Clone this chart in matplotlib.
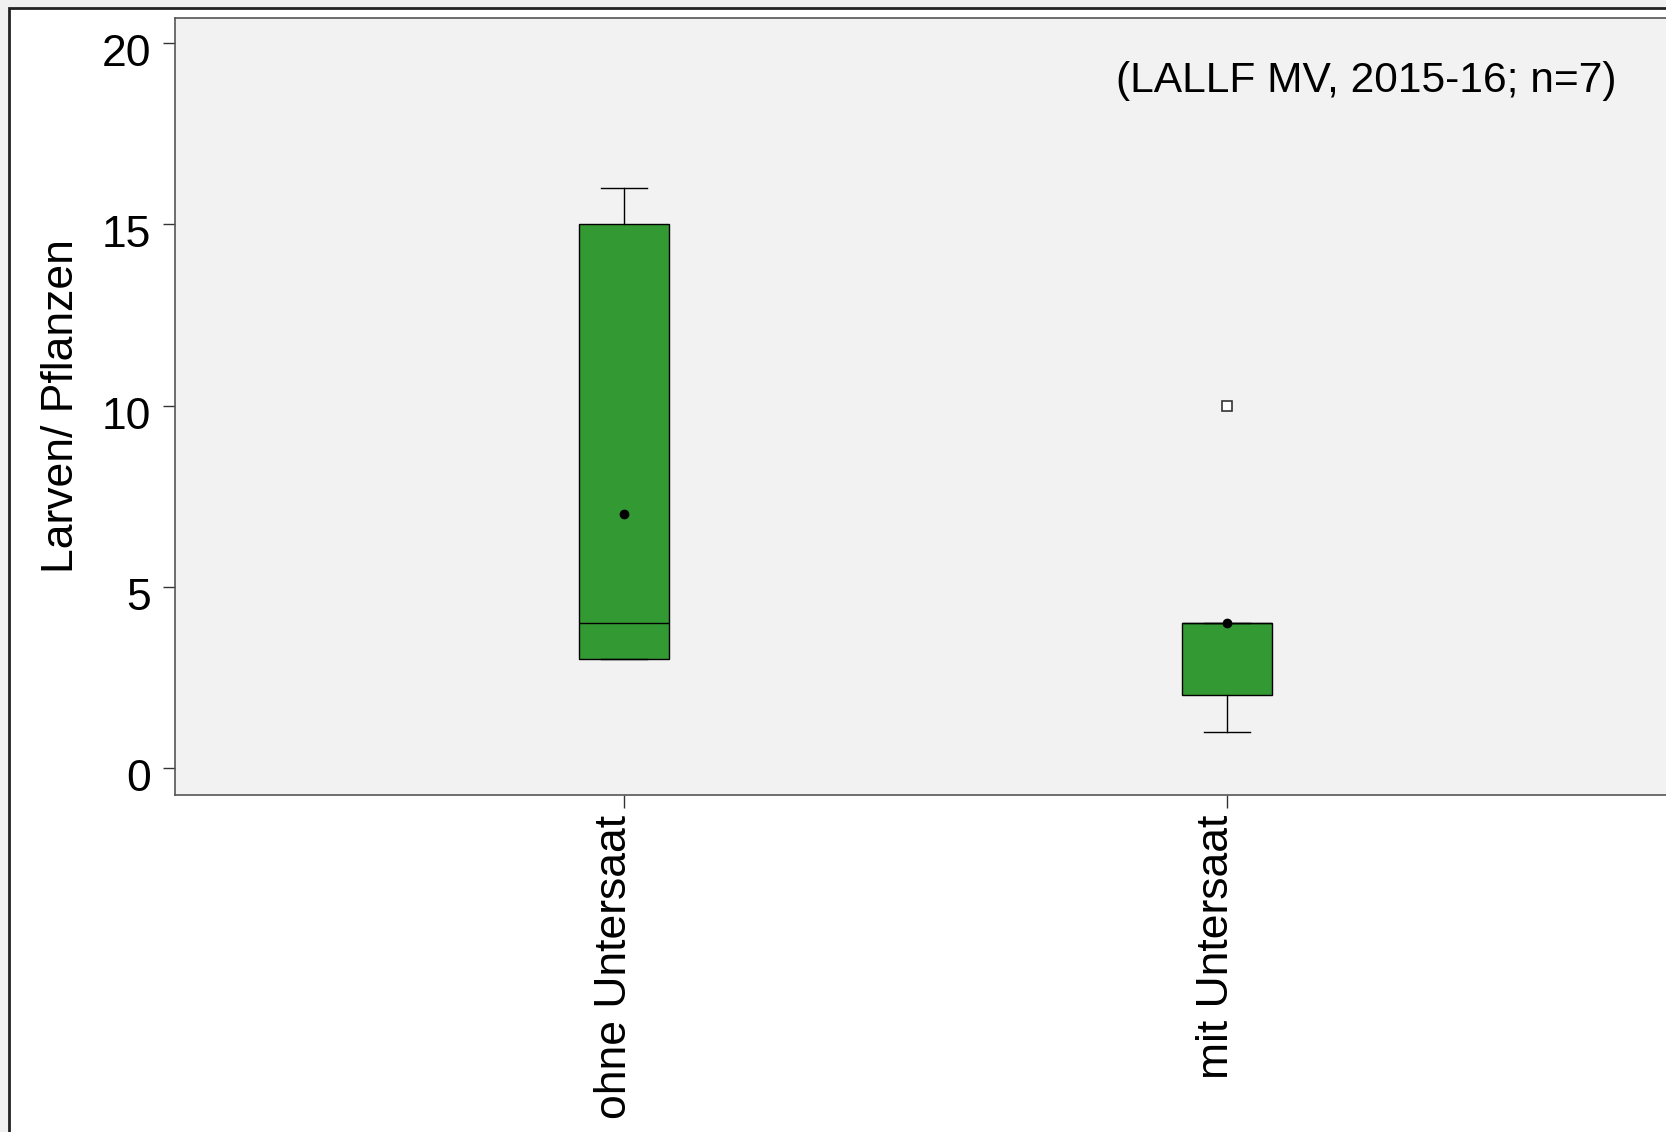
import matplotlib
matplotlib.use('Agg')
import matplotlib.pyplot as plt
from matplotlib.patches import Rectangle
from matplotlib.transforms import ScaledTranslation

plt.rcParams['font.family'] = ['Liberation Sans', 'DejaVu Sans']

# Larven je Pflanze, Kennwerte der beiden Varianten
groups = ['ohne Untersaat', 'mit Untersaat']
whisker_low = [3, 1]
q1 = [3, 2]
median = [4, 4]
q3 = [15, 4]
whisker_high = [16, 4]
means = [7, 4]
outliers = [[], [10]]

stats = []
for i, name in enumerate(groups):
    stats.append({
        'label': name,
        'whislo': whisker_low[i],
        'q1': q1[i],
        'med': median[i],
        'q3': q3[i],
        'whishi': whisker_high[i],
        'mean': means[i],
        'fliers': outliers[i],
    })

W, H = 1666, 1132
fig = plt.figure(figsize=(W / 100, H / 100), dpi=100)
fig.patch.set_facecolor('#f0f0f0')

# white frame behind the chart
frame = Rectangle((9 / W, -0.1), 1.2, 1 - 8 / H + 0.1, transform=fig.transFigure,
                  facecolor='white', edgecolor='#222222', linewidth=2.0, zorder=-5)
fig.patches.append(frame)

left, right, top, bottom = 175, 1676, 18, 795
ax = fig.add_axes([left / W, 1 - bottom / H, (right - left) / W, (bottom - top) / H])
ax.set_zorder(1)
ax.set_facecolor('#f2f2f2')

ax.bxp(stats, positions=[1, 2], widths=0.15, patch_artist=True, showmeans=True,
       boxprops=dict(facecolor='#339933', edgecolor='black', linewidth=1.0),
       medianprops=dict(color='black', linewidth=1.0),
       whiskerprops=dict(color='black', linewidth=1.0),
       capprops=dict(color='black', linewidth=1.0),
       capwidths=0.075,
       meanprops=dict(marker='o', markerfacecolor='black', markeredgecolor='black', markersize=6),
       flierprops=dict(marker='s', markerfacecolor='white', markeredgecolor='#333333',
                       markersize=7, markeredgewidth=1.2))

ax.set_xlim(0.255, 2.745)
ax.set_ylim(-0.75, 20.7)
ax.set_yticks([0, 5, 10, 15, 20])
ax.set_xticks([1, 2])
ax.set_xticklabels(groups, rotation=90, va='top', ha='center')

for side in ['left', 'top', 'bottom', 'right']:
    ax.spines[side].set_color('#555555')
    ax.spines[side].set_linewidth(1.2)

ax.tick_params(axis='both', labelsize=32, length=9, width=1.0, color='#333333')
ax.tick_params(axis='y', pad=8)
ax.tick_params(axis='x', pad=5)

# nudge tick labels: y labels sit a bit below their ticks, x labels a bit to the left
for lab in ax.get_yticklabels():
    lab.set_transform(lab.get_transform() + ScaledTranslation(0, -0.07, fig.dpi_scale_trans))
for lab in ax.get_xticklabels():
    lab.set_transform(lab.get_transform() + ScaledTranslation(-0.10, 0, fig.dpi_scale_trans))

ax.set_ylabel('Larven/ Pflanzen', fontsize=32)
ax.yaxis.set_label_coords(-0.062, 0.5)

fig.text(1616 / W, 1 - 81 / H, '(LALLF MV, 2015-16; n=7)', ha='right', va='center',
         fontsize=30.6, zorder=2)

fig.savefig('out.png', dpi=100, facecolor=fig.get_facecolor())
